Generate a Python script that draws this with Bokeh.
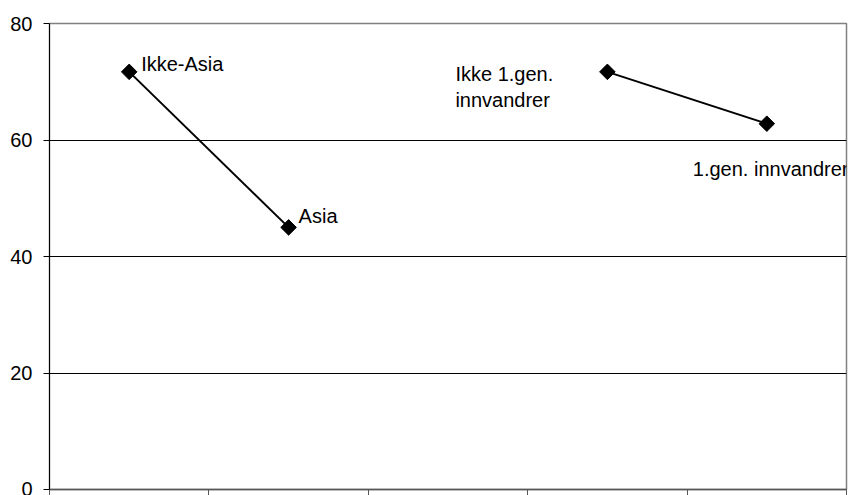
from bokeh.plotting import figure
from bokeh.models import ColumnDataSource, LabelSet, Range1d, FixedTicker
from bokeh.core.properties import value
from bokeh.embed import file_html
from bokeh.resources import INLINE
import math

# ---- data ----
n_slots = 5
group1_labels = ["Ikke-Asia", "Asia"]
group1_values = [71.7, 45.0]
group1_slots = [1, 2]

group2_labels = ["Ikke 1.gen.\ninnvandrer", "1.gen. innvandrer"]
group2_values = [71.7, 62.8]
group2_slots = [4, 5]

y_ticks = [0, 20, 40, 60, 80]

FONT = "Liberation Sans"

p = figure(width=857, height=495, output_backend="svg", toolbar_location=None,
           x_range=Range1d(0, n_slots), y_range=Range1d(0, 80),
           min_border_left=49, min_border_right=11, min_border_top=23, min_border_bottom=0)
p.background_fill_color = "white"
p.border_fill_color = "white"
p.outline_line_color = "#808080"
p.outline_line_width = 1.5

p.xgrid.visible = False
p.ygrid.ticker = FixedTicker(ticks=[t for t in y_ticks if 0 < t < 80])
p.ygrid.grid_line_color = "black"
p.ygrid.grid_line_width = 1

p.yaxis.ticker = FixedTicker(ticks=y_ticks)
p.yaxis.axis_line_color = "black"
p.yaxis.major_tick_line_color = "black"
p.yaxis.major_tick_out = 6
p.yaxis.major_tick_in = 0
p.yaxis.minor_tick_line_color = None
p.yaxis.major_label_standoff = 11
p.yaxis.major_label_text_font = FONT
p.yaxis.major_label_text_font_size = "20px"
p.yaxis.major_label_text_color = "black"

x_ticks = list(range(n_slots + 1))
p.xaxis.ticker = FixedTicker(ticks=x_ticks)
p.xaxis.axis_line_color = "#555555"
p.xaxis.axis_line_width = 1.5
p.xaxis.major_tick_line_color = "#555555"
p.xaxis.major_tick_out = 6
p.xaxis.major_tick_in = 0
p.xaxis.minor_tick_line_color = None
p.xaxis.major_label_overrides = {t: "" for t in x_ticks}
p.xaxis.major_label_standoff = 0

def centers(slots):
    return [s - 0.5 for s in slots]

for labels, values, slots in [(group1_labels, group1_values, group1_slots),
                              (group2_labels, group2_values, group2_slots)]:
    src = ColumnDataSource(dict(x=centers(slots), y=values, text=labels))
    p.line("x", "y", source=src, line_color="black", line_width=2)
    p.scatter("x", "y", source=src, marker="square", size=11, angle=math.pi / 4,
              fill_color="black", line_color="black")

def add_label(x, y, text, align, baseline, xo, yo):
    src = ColumnDataSource(dict(x=[x], y=[y], text=[text]))
    p.add_layout(LabelSet(x="x", y="y", text="text", source=src,
                          x_offset=xo, y_offset=yo, text_align=value(align),
                          text_baseline=value(baseline), text_font=value(FONT),
                          text_font_size=value("20px"), text_color=value("black")))

c1 = centers(group1_slots)
c2 = centers(group2_slots)
add_label(c1[0], group1_values[0], group1_labels[0], "left", "alphabetic", 12, 1)
add_label(c1[1], group1_values[1], group1_labels[1], "left", "alphabetic", 10, 4)
add_label(c2[0], group2_values[0], group2_labels[0], "left", "top", -152, 9)
add_label(c2[1], group2_values[1], group2_labels[1], "left", "alphabetic", -74, -52)

open("out.html", "w").write(file_html(p, INLINE))
